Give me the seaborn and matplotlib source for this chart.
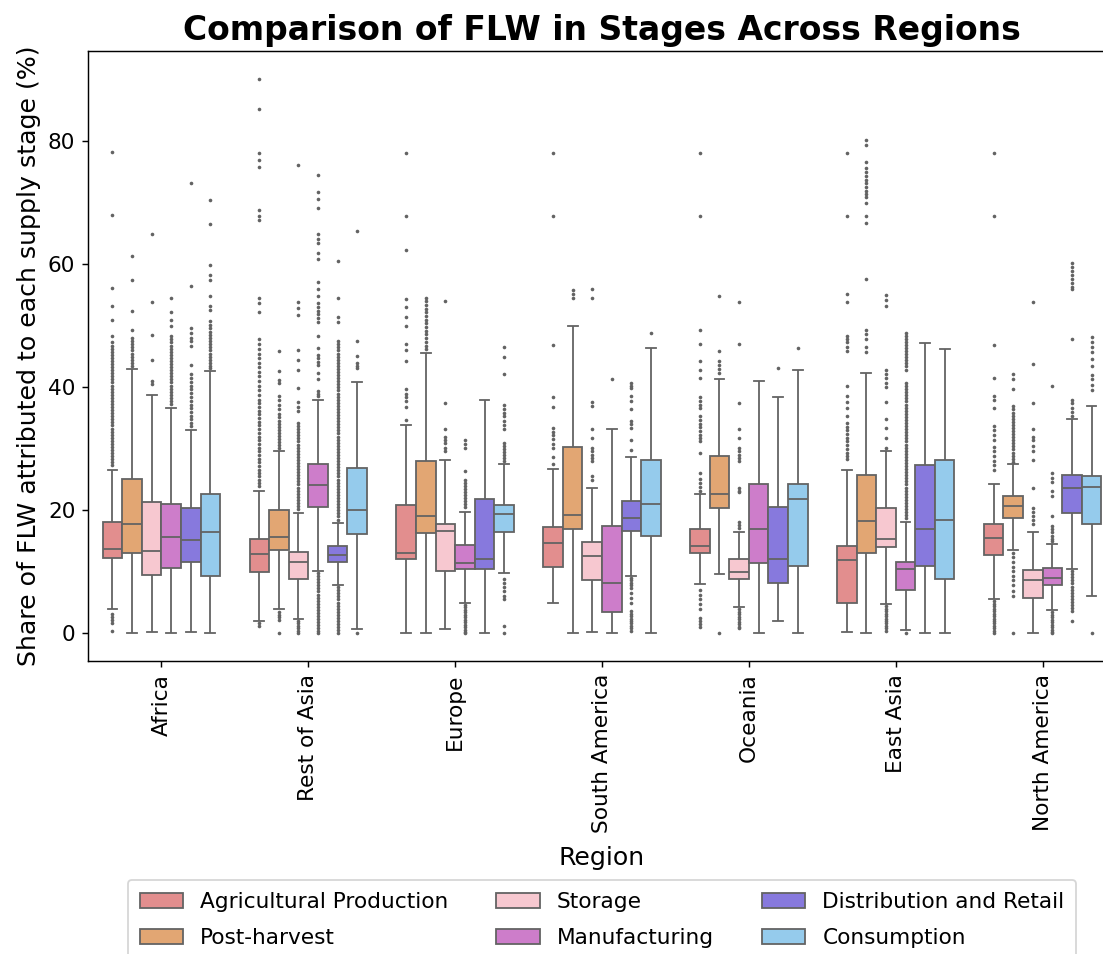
import numpy as np
import pandas as pd
import matplotlib
matplotlib.use("Agg")
import matplotlib.pyplot as plt
import seaborn as sns

# ---------------- data ----------------
regions = ["Africa", "Rest of Asia", "Europe", "South America", "Oceania",
           "East Asia", "North America"]
stages = ["Agricultural Production", "Post-harvest", "Storage", "Manufacturing",
          "Distribution and Retail", "Consumption"]
stage_colors = ["lightcoral", "sandybrown", "pink", "orchid",
                "mediumslateblue", "lightskyblue"]

# box statistics per stage, one value per region (order of `regions`)
agri_low = [3.9, 1.95, 0.0, 5.0, 8.0, 0.2, 5.65]
agri_q1 = [12.25, 9.9, 12.0, 10.8, 13.1, 4.9, 12.8]
agri_med = [13.76, 12.95, 13.1, 14.7, 14.2, 11.9, 15.55]
agri_q3 = [18.1, 15.3, 20.9, 17.3, 17.0, 14.2, 17.7]
agri_high = [26.6, 23.2, 33.8, 26.7, 22.6, 26.5, 24.3]

post_low = [0.0, 3.9, 0.0, 0.0, 9.7, 0.0, 13.55]
post_q1 = [13.1, 13.5, 16.3, 17.0, 20.4, 13.0, 18.75]
post_med = [17.7, 15.7, 19.0, 19.2, 22.7, 18.3, 20.7]
post_q3 = [25.1, 20.0, 28.1, 30.3, 28.9, 25.7, 22.3]
post_high = [43.0, 29.6, 45.6, 49.9, 41.4, 42.4, 27.5]

stor_low = [0.2, 2.4, 0.75, 0.2, 4.3, 4.7, 0.1]
stor_q1 = [9.5, 8.8, 10.1, 8.7, 8.9, 14.0, 5.8]
stor_med = [13.4, 11.65, 16.6, 12.5, 10.0, 15.3, 8.7]
stor_q3 = [21.3, 13.2, 17.7, 14.9, 12.0, 20.3, 10.3]
stor_high = [38.7, 19.6, 28.2, 23.6, 16.4, 29.6, 16.4]

manu_low = [0.0, 10.2, 5.0, 0.0, 0.0, 0.55, 3.8]
manu_q1 = [10.6, 20.6, 10.5, 3.5, 11.4, 7.1, 7.8]
manu_med = [15.7, 24.1, 11.5, 8.2, 17.0, 10.4, 9.05]
manu_q3 = [21.1, 27.6, 14.3, 17.4, 24.3, 11.6, 10.6]
manu_high = [36.6, 37.9, 19.8, 33.2, 41.0, 18.1, 14.5]

dist_low = [0.2, 7.8, 0.0, 9.3, 1.95, 0.0, 10.5]
dist_q1 = [11.6, 11.6, 10.5, 16.6, 8.2, 10.95, 19.6]
dist_med = [15.1, 12.7, 12.0, 18.7, 12.0, 17.0, 23.7]
dist_q3 = [20.3, 14.2, 21.9, 21.5, 20.6, 27.3, 25.8]
dist_high = [33.1, 18.0, 38.0, 28.7, 38.5, 47.2, 34.9]

cons_low = [0.0, 0.65, 9.8, 0.0, 0.0, 0.0, 6.1]
cons_q1 = [9.3, 16.2, 16.4, 15.9, 10.95, 8.9, 17.7]
cons_med = [16.4, 20.0, 19.45, 21.1, 21.8, 18.5, 23.8]
cons_q3 = [22.7, 26.9, 20.9, 28.2, 24.3, 28.2, 25.5]
cons_high = [42.6, 40.8, 27.5, 46.4, 42.8, 46.2, 36.9]

# outlier points per stage, one list per region
agri_fliers = [
    [78.3, 68.0, 56.1, 53.3, 50.9, 48.3, 47.3, 46.8, 46.3, 45.8, 45.3, 44.8, 44.3,
     43.8, 43.3, 42.8, 42.3, 41.8, 41.3, 40.8, 40.3, 39.8, 39.3, 38.8, 38.3, 37.8,
     37.3, 36.8, 36.3, 35.8, 35.3, 34.8, 34.3, 33.8, 33.3, 32.8, 32.3, 31.8, 31.3,
     30.8, 30.3, 29.8, 29.3, 28.8, 28.3, 27.8, 27.3, 3.2, 2.6, 2.1, 1.6, 0.4],
    [90.2, 85.2, 78.2, 76.9, 75.8, 68.9, 67.9, 67.2, 54.6, 53.7, 52.3, 47.9, 47.0,
     46.3, 45.5, 44.8, 44.0, 43.3, 42.5, 41.8, 41.0, 40.3, 39.5, 38.8, 38.0, 37.4,
     36.8, 36.2, 35.6, 35.0, 34.4, 33.8, 33.2, 32.6, 32.0, 31.4, 30.8, 30.2, 29.6,
     29.0, 28.4, 27.8, 27.2, 26.6, 26.0, 25.5, 25.0, 24.5, 24.0, 1.6, 1.2],
    [78.2, 67.8, 62.4, 54.3, 53.0, 51.5, 50.0, 47.0, 46.0, 44.3, 39.7, 39.0, 38.4,
     37.8, 36.8, 34.7],
    [78.2, 67.8, 46.9, 38.4, 36.8, 33.4, 32.8, 32.2, 31.6, 30.8, 30.2, 28.7, 27.5],
    [78.2, 67.8, 49.4, 47.0, 44.3, 42.8, 41.5, 38.4, 37.8, 37.2, 36.7, 35.3, 34.7,
     34.1, 33.5, 32.9, 32.3, 31.7, 31.3, 29.3, 26.1, 25.1, 24.5, 23.8, 23.2, 7.0,
     6.2, 5.5, 4.8, 4.0, 2.5, 2.0, 1.5, 1.0],
    [78.2, 67.9, 55.2, 53.9, 48.3, 47.8, 47.3, 46.6, 45.9, 40.2, 38.6, 37.6, 36.6,
     35.3, 34.2, 33.6, 33.0, 32.4, 31.8, 31.2, 30.6, 30.0, 29.4, 28.8, 28.3],
    [78.2, 67.8, 46.9, 41.5, 38.6, 38.0, 36.7, 33.7, 33.0, 32.3, 31.5, 30.3, 29.6,
     28.8, 28.0, 27.3, 26.5, 5.2, 4.8, 4.4, 4.0, 3.6, 3.2, 2.8, 2.4, 2.0, 1.6, 1.2,
     0.8, 0.4, 0.1],
]
post_fliers = [
    [61.4, 57.4, 52.4, 49.3, 48.0, 47.5, 47.0, 46.5, 46.0, 45.5, 45.0, 44.5, 44.0,
     43.5],
    [45.9, 42.6, 41.2, 40.7, 38.6, 37.9, 37.2, 36.4, 35.6, 35.1, 34.6, 34.1, 33.6,
     33.1, 32.6, 32.1, 31.6, 31.1, 30.6, 30.1, 3.5, 3.0, 2.6, 2.2, 0.1],
    [54.6, 54.0, 53.4, 52.8, 52.2, 51.6, 51.0, 50.4, 49.8, 49.2, 48.6, 48.0, 47.4,
     46.8, 46.2],
    [55.9, 55.2, 54.5],
    [54.8, 45.9, 44.3, 43.7, 43.0, 42.4, 0.0],
    [80.3, 79.4, 76.6, 75.6, 75.0, 74.4, 73.8, 73.2, 72.6, 72.0, 71.4, 71.0, 70.0,
     67.9, 66.8, 57.6, 49.4, 48.6, 47.8, 46.6, 45.8],
    [42.1, 41.3, 39.7, 36.9, 36.4, 35.9, 35.4, 34.9, 34.4, 33.9, 33.4, 32.9, 32.4,
     31.9, 31.4, 30.9, 30.4, 29.9, 29.4, 28.9, 28.4, 27.9, 13.1, 12.4, 11.6, 10.8,
     10.2, 9.3, 8.6, 7.9, 6.9, 6.1, 0.1],
]
stor_fliers = [
    [64.9, 53.9, 48.5, 44.4, 41.0, 40.5],
    [76.2, 53.9, 52.9, 51.7, 46.0, 44.5, 42.8, 39.9, 37.6, 36.8, 36.1, 34.2, 33.7,
     33.2, 32.7, 32.2, 31.7, 31.2, 30.7, 30.2, 29.7, 29.2, 28.7, 28.2, 27.7, 27.2,
     26.7, 26.2, 25.7, 25.2, 24.7, 24.2, 23.7, 23.2, 22.7, 22.2, 21.7, 21.2, 20.7,
     20.2, 2.0, 1.6, 1.2, 0.8, 0.4, 0.0],
    [54.0, 37.4, 33.3, 32.0, 31.5, 31.0, 30.2, 29.6],
    [56.0, 54.6, 37.6, 37.0, 33.3, 31.8, 30.2, 29.6, 29.0, 28.5, 28.0, 25.6, 25.0],
    [53.9, 47.0, 37.4, 33.3, 31.8, 30.2, 29.6, 29.0, 28.5, 28.0, 23.7, 23.2, 22.9,
     18.1, 17.6, 17.1, 3.9, 3.5, 3.1, 2.7, 2.3, 1.9, 1.5, 1.1, 0.9],
    [55.1, 54.2, 53.2, 42.9, 42.2, 41.5, 40.7, 40.0, 37.6, 34.8, 33.4, 31.8, 30.2,
     4.4, 4.0, 3.6, 3.2, 2.8, 2.4, 2.0, 1.6, 1.2, 0.8, 0.4],
    [53.9, 43.8, 37.4, 33.3, 32.0, 31.4, 30.4, 29.6, 28.2, 23.7, 20.4, 19.8, 19.0,
     18.5, 17.7],
]
manu_fliers = [
    [54.5, 52.2, 50.9, 50.0, 48.3, 47.8, 47.3, 46.8, 46.3, 45.8, 45.3, 44.8, 44.3,
     43.8, 43.3, 42.8, 42.3, 41.8, 41.3, 40.8, 40.3, 39.8, 39.3, 38.8, 38.3, 37.8,
     37.3],
    [74.5, 71.7, 70.7, 69.2, 64.9, 64.1, 63.4, 61.8, 60.8, 57.1, 56.0, 54.8, 53.7,
     53.1, 52.5, 51.9, 51.3, 50.7, 48.4, 46.4, 45.3, 44.8, 44.2, 43.7, 42.4, 41.4,
     39.4, 39.0, 38.6, 9.8, 9.3, 8.8, 8.3, 7.8, 7.3, 6.8, 6.3, 5.8, 5.3, 4.8, 4.3,
     3.8, 3.3, 2.8, 2.3, 1.8, 1.3, 0.8, 0.3, 0.0],
    [31.5, 30.8, 30.1, 26.4, 25.0, 24.5, 24.0, 23.5, 23.0, 22.5, 22.0, 21.5, 21.0,
     20.5, 4.6, 4.2, 3.8, 3.4, 3.0, 2.6, 2.2, 1.8, 1.4, 1.0, 0.6, 0.2, 0.0],
    [41.4],
    [],
    [48.9, 48.4, 47.9, 47.4, 46.9, 46.4, 45.9, 45.4, 44.9, 44.4, 43.9, 43.4, 42.9,
     40.7, 40.2, 39.7, 39.2, 38.7, 38.2, 37.7, 37.2, 36.7, 36.2, 35.7, 35.2, 34.7,
     34.2, 33.7, 33.2, 32.7, 32.2, 31.7, 31.2, 30.7, 30.2, 29.7, 29.2, 28.7, 28.2,
     27.7, 27.2, 26.7, 26.2, 25.7, 25.2, 24.7, 24.2, 23.7, 23.2, 22.7, 22.2, 21.7,
     21.2, 20.7, 20.2, 19.7, 19.2, 18.7, 0.1],
    [40.2, 26.0, 25.3, 24.6, 23.2, 22.4, 19.1, 17.4, 16.9, 16.4, 15.9, 15.4, 15.0,
     3.4, 3.0, 2.6, 2.2, 1.8, 1.4, 1.0, 0.6, 0.2, 0.0],
]
dist_fliers = [
    [73.2, 56.5, 49.7, 48.8, 48.1, 47.5, 46.7, 43.7, 42.1, 41.5, 40.9, 40.3, 39.7,
     39.1, 38.4, 37.8, 37.2, 36.6, 36.0, 35.4, 34.8, 34.2, 33.7],
    [60.6, 54.5, 51.5, 50.6, 47.5, 47.0, 46.5, 46.0, 45.5, 45.0, 44.5, 44.0, 43.5,
     43.0, 42.5, 42.0, 41.5, 41.0, 40.5, 40.0, 39.5, 39.0, 38.5, 38.0, 37.5, 37.0,
     36.5, 36.0, 35.5, 35.0, 34.5, 34.0, 33.5, 33.0, 32.5, 32.0, 31.5, 31.0, 30.5,
     30.0, 29.5, 29.0, 28.5, 28.0, 27.5, 27.0, 26.5, 26.0, 25.5, 25.0, 24.5, 24.0,
     23.5, 23.0, 22.5, 22.0, 21.5, 21.0, 20.5, 20.0, 19.5, 19.0, 18.5, 7.5, 7.0,
     6.5, 6.0, 5.5, 5.0, 4.5, 4.0, 3.5, 3.0, 2.5, 2.0, 1.5, 1.0, 0.5, 0.0],
    [],
    [40.7, 40.2, 39.9, 38.6, 37.8, 36.4, 34.5, 34.0, 33.4, 31.5, 29.8, 9.0, 8.6,
     8.2, 7.8, 7.4, 6.5, 5.8, 5.0, 3.6, 3.2, 2.8, 2.4, 2.0, 1.6, 1.2, 0.8, 0.4],
    [43.2],
    [],
    [60.3, 59.6, 58.9, 58.2, 57.6, 57.0, 56.4, 56.0, 47.9, 38.0, 37.4, 36.7, 36.0,
     35.4, 10.1, 9.6, 9.1, 8.6, 8.1, 7.6, 7.1, 6.6, 6.1, 5.6, 5.1, 4.6, 4.1, 3.6,
     2.0],
]
cons_fliers = [
    [70.4, 66.6, 59.9, 58.3, 57.5, 54.8, 53.2, 52.6, 50.8, 50.2, 49.6, 49.0, 48.5,
     48.0, 47.5, 47.0, 46.5, 46.0, 45.5, 45.0, 44.5, 44.0, 43.5, 43.1],
    [65.5, 47.5, 45.1, 44.0, 43.5, 43.1, 0.0],
    [46.6, 44.9, 42.2, 37.2, 36.5, 35.9, 35.3, 34.6, 33.9, 33.2, 31.0, 30.5, 30.0,
     29.5, 29.0, 28.5, 28.0, 8.8, 8.2, 7.5, 6.8, 6.1, 5.5, 1.2, 0.1],
    [48.8],
    [46.4],
    [],
    [48.2, 47.4, 46.6, 45.8, 44.6, 43.5, 42.0, 41.3, 40.4, 39.6, 0.1],
]

# ---------------- assemble observations reproducing each box ----------------
stage_table = {
    stages[0]: (agri_low, agri_q1, agri_med, agri_q3, agri_high, agri_fliers),
    stages[1]: (post_low, post_q1, post_med, post_q3, post_high, post_fliers),
    stages[2]: (stor_low, stor_q1, stor_med, stor_q3, stor_high, stor_fliers),
    stages[3]: (manu_low, manu_q1, manu_med, manu_q3, manu_high, manu_fliers),
    stages[4]: (dist_low, dist_q1, dist_med, dist_q3, dist_high, dist_fliers),
    stages[5]: (cons_low, cons_q1, cons_med, cons_q3, cons_high, cons_fliers),
}

rec_region, rec_stage, rec_value = [], [], []
for stage, (lo, q1, med, q3, hi, fl) in stage_table.items():
    for i, region in enumerate(regions):
        k = 4 * len(fl[i]) + 10
        vals = [lo[i]] + [q1[i]] * k + [med[i]] * k + [q3[i]] * k + [hi[i]] + list(fl[i])
        rec_region += [region] * len(vals)
        rec_stage += [stage] * len(vals)
        rec_value += vals

df = pd.DataFrame({"Region": rec_region, "Stage": rec_stage, "Share": rec_value})

# ---------------- plot ----------------
DPI = 130
W, H = 1103, 954
fig = plt.figure(figsize=(W / DPI, H / DPI), dpi=DPI)
ax_left, ax_right, ax_top, ax_bottom = 88, 1116, 51, 661
ax = fig.add_axes([ax_left / W, 1 - ax_bottom / H,
                   (ax_right - ax_left) / W, (ax_bottom - ax_top) / H])

sns.boxplot(data=df, x="Region", y="Share", hue="Stage",
            order=regions, hue_order=stages,
            palette=dict(zip(stages, stage_colors)),
            fliersize=1, ax=ax)

ax.set_title("Comparison of FLW in Stages Across Regions",
             fontsize=18.3, fontweight="bold")
ax.set_xlabel("Region", fontsize=14, labelpad=7)
ax.set_ylabel("Share of FLW attributed to each supply stage (%)", fontsize=14)
ax.tick_params(axis="x", rotation=90, labelsize=12)
ax.tick_params(axis="y", labelsize=12)

legend_top = 880
sns.move_legend(ax, "upper center",
                bbox_to_anchor=(0.5, -(legend_top - ax_bottom) / (ax_bottom - ax_top)),
                ncol=3, title=None, fontsize=12, borderaxespad=0, frameon=True,
                labelspacing=0.75, columnspacing=2.2, borderpad=0.55)

fig.savefig("out.png", dpi=DPI)
